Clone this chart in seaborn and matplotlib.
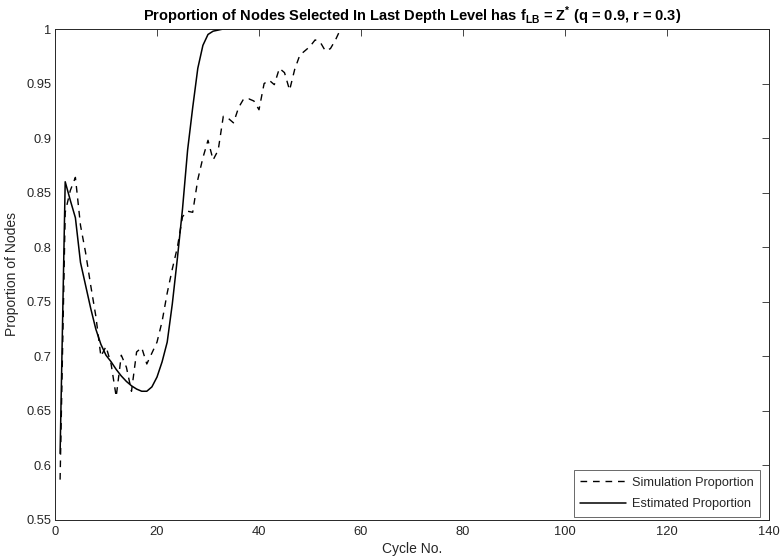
import matplotlib
matplotlib.use("Agg")
import matplotlib.pyplot as plt
import numpy as np
import seaborn as sns
from matplotlib.ticker import FormatStrFormatter, MultipleLocator

# values
sim_head = [
    0.587, 0.832, 0.852, 0.864, 0.820, 0.795, 0.765, 0.737, 0.700, 0.709,
    0.693, 0.663, 0.701, 0.690, 0.668, 0.704, 0.708, 0.693, 0.703, 0.713,
    0.732, 0.758, 0.780, 0.800, 0.828, 0.833, 0.832, 0.862, 0.882, 0.898,
    0.880, 0.889, 0.920, 0.918, 0.914, 0.928, 0.936, 0.936, 0.934, 0.926,
    0.950, 0.953, 0.949, 0.964, 0.960, 0.944, 0.963, 0.976, 0.980, 0.984,
    0.990, 0.988, 0.980, 0.982, 0.990,
]
est_head = [
    0.611, 0.860, 0.843, 0.827, 0.786, 0.765, 0.744, 0.725, 0.711, 0.701,
    0.695, 0.688, 0.682, 0.677, 0.673, 0.670, 0.668, 0.668, 0.672, 0.681,
    0.695, 0.713, 0.748, 0.790, 0.835, 0.889, 0.928, 0.964, 0.985, 0.995,
    0.998, 0.999,
]
n_cycles = 140
cycles = np.arange(1, n_cycles + 1)
simulation = np.array(sim_head + [1.0] * (n_cycles - len(sim_head)))
estimated = np.array(est_head + [1.0] * (n_cycles - len(est_head)))

sns.set_theme(style="white")
plt.rcParams["font.family"] = ["Liberation Sans", "DejaVu Sans"]
plt.rcParams["mathtext.fontset"] = "custom"
plt.rcParams["mathtext.rm"] = "Liberation Sans"
plt.rcParams["mathtext.bf"] = "Liberation Sans:bold"

axis_color = "#262626"
fig = plt.figure(figsize=(7.81, 5.58), dpi=100)
ax = fig.add_axes([55 / 781, 1 - 520 / 558, 714 / 781, 491 / 558])

sns.lineplot(x=cycles, y=simulation, ax=ax, color="black", linewidth=1.0,
             linestyle=(0, (4.8, 4.2)), label="Simulation Proportion")
sns.lineplot(x=cycles, y=estimated, ax=ax, color="black", linewidth=1.1,
             label="Estimated Proportion")

ax.set_xlim(0, 140)
ax.set_ylim(0.55, 1.0)
ax.xaxis.set_major_locator(MultipleLocator(20))
ax.yaxis.set_major_locator(MultipleLocator(0.05))
ax.yaxis.set_major_formatter(FormatStrFormatter("%g"))
ax.tick_params(direction="in", length=4.8, width=0.6, colors=axis_color,
               labelsize=9.3, top=True, right=True)
ax.tick_params(axis="x", pad=4.5)
ax.tick_params(axis="y", pad=2.5)
for spine in ax.spines.values():
    spine.set_color(axis_color)
    spine.set_linewidth(0.7)

ax.set_xlabel("Cycle No.", fontsize=10, color=axis_color, labelpad=3)
ax.set_ylabel("Proportion of Nodes", fontsize=10, color=axis_color, labelpad=5)
ax.set_title(r"Proportion of Nodes Selected In Last Depth Level has "
             r"f$_{\mathbf{LB}}$ = Z$^{\mathbf{*}}$ (q = 0.9, r = 0.3)",
             fontsize=10.5, fontweight="bold", color="black", pad=6)

leg = ax.legend(loc="lower right", bbox_to_anchor=(760 / 781, 1 - 516.5 / 558),
                bbox_transform=fig.transFigure, borderaxespad=0,
                fontsize=9.2, frameon=True, fancybox=False,
                edgecolor=axis_color, handlelength=3.6, labelspacing=0.75,
                handletextpad=0.45, borderpad=0.5)
leg.get_frame().set_linewidth(0.6)

fig.savefig("out.png", dpi=100)
